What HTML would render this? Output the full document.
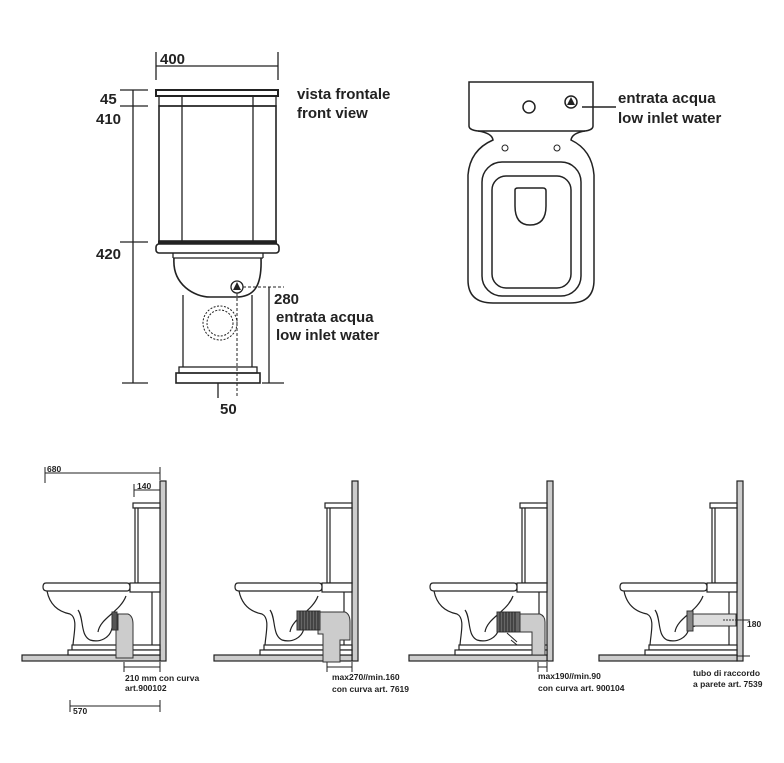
<!DOCTYPE html>
<html><head><meta charset="utf-8"><style>
html,body{margin:0;padding:0;background:#fff;}
svg{display:block;}
text{font-family:"Liberation Sans",Arial,sans-serif;font-weight:bold;fill:#222;}
.b{font-size:15px;}
.s{font-size:8.5px;}
</style></head><body>
<svg width="784" height="763" viewBox="0 0 784 763" xmlns="http://www.w3.org/2000/svg">
<defs>
<g id="side" fill="none" stroke="#222" stroke-width="1.2">
  <rect x="160" y="481" width="6" height="180" fill="#ccc"/>
  <rect x="22" y="655" width="138" height="6" fill="#ccc"/>
  <rect x="133" y="503" width="27" height="5" fill="#fff"/>
  <rect x="135" y="508" width="25" height="75" fill="#fff"/>
  <line x1="138" y1="508" x2="138" y2="583"/>
  <rect x="130" y="583" width="30" height="9" fill="#fff"/>
  <path d="M46,583 L127,583 Q130,583 130,587 Q130,591 127,591 L47,591 Q43,591 43,587 Q43,583 46,583 Z" fill="#fff"/>
  <path d="M152,592 L152,645"/>
  <path d="M47,591 C50,606 60,612 70,614 C78,618 74,632 73,645"/>
  <path d="M78,610 C84,618 80,635 90,640 C100,643 110,638 112,628 L118,626"/>
  <path d="M126,596 C120,612 100,618 98,632"/>
  <rect x="72" y="645" width="88" height="5" fill="#fff"/>
  <rect x="68" y="650" width="92" height="5" fill="#fff"/>
</g>
</defs>

<!-- FRONT VIEW -->
<g fill="none" stroke="#222" stroke-width="1.3">
  <line x1="156" y1="52" x2="156" y2="80"/>
  <line x1="278" y1="52" x2="278" y2="80"/>
  <line x1="156" y1="66" x2="278" y2="66"/>
  <line x1="133" y1="90" x2="133" y2="383"/>
  <line x1="120" y1="90" x2="148" y2="90"/>
  <line x1="120" y1="106" x2="148" y2="106"/>
  <line x1="120" y1="242" x2="148" y2="242"/>
  <line x1="122" y1="383" x2="148" y2="383"/>
  <rect x="156" y="90" width="122" height="6" stroke-width="2"/>
  <rect x="159" y="96" width="117" height="10"/>
  <rect x="159" y="106" width="117" height="135" stroke-width="1.6"/>
  <line x1="182" y1="96" x2="182" y2="241"/>
  <line x1="253" y1="96" x2="253" y2="241"/>
  <line x1="158" y1="242" x2="277" y2="242" stroke-width="3"/>
  <rect x="156" y="244" width="123" height="9" rx="3" stroke-width="1.6"/>
  <line x1="173" y1="258" x2="263" y2="258"/>
  <line x1="173" y1="253" x2="173" y2="258"/><line x1="263" y1="253" x2="263" y2="258"/>
  <path d="M174,258 C172,285 195,297 210,297 L236,297 C255,297 262,285 261,258" stroke-width="1.6"/>
  <line x1="183" y1="295" x2="183" y2="367"/>
  <line x1="252" y1="295" x2="252" y2="367"/>
  <rect x="179" y="367" width="78" height="6"/>
  <rect x="176" y="373" width="84" height="10" stroke-width="1.6"/>
  <circle cx="220" cy="323" r="17" stroke-dasharray="2,1.5" stroke-width="1"/>
  <circle cx="220" cy="323" r="13" stroke-dasharray="2,1.5" stroke-width="1"/>
  <line x1="237" y1="293" x2="237" y2="398" stroke-dasharray="3,2" stroke-width="1"/>
  <line x1="243" y1="287" x2="284" y2="287" stroke-dasharray="3,2" stroke-width="1"/>
  <line x1="269" y1="287" x2="269" y2="383"/>
  <line x1="262" y1="383" x2="284" y2="383"/>
  <line x1="218" y1="383" x2="218" y2="398"/>
  <circle cx="237" cy="287" r="6" fill="#fff"/>
</g>
<polygon points="237,282 233,290 241,290" fill="#222"/>
<text class="b" x="160" y="64">400</text>
<text class="b" x="100" y="104">45</text>
<text class="b" x="96" y="124">410</text>
<text class="b" x="96" y="259">420</text>
<text class="b" x="297" y="99">vista frontale</text>
<text class="b" x="297" y="118">front view</text>
<text class="b" x="274" y="304">280</text>
<text class="b" x="276" y="322">entrata acqua</text>
<text class="b" x="276" y="340">low inlet water</text>
<text class="b" x="220" y="414">50</text>

<!-- TOP VIEW -->
<g fill="none" stroke="#222" stroke-width="1.5">
  <path d="M469,82 L593,82 L593,126 Q593,130 585,131 Q572,133 571,140 Q592,150 594,175 L594,280 Q594,303 570,303 L493,303 Q468,303 468,280 L468,175 Q470,150 493,140 Q492,133 478,131 Q469,130 469,126 Z"/>
  <line x1="478" y1="131" x2="585" y2="131"/>
  <circle cx="529" cy="107" r="6"/>
  <circle cx="571" cy="102" r="6"/>
  <circle cx="505" cy="148" r="3" stroke-width="1"/>
  <circle cx="557" cy="148" r="3" stroke-width="1"/>
  <rect x="482" y="162" width="99" height="134" rx="20"/>
  <rect x="492" y="176" width="79" height="112" rx="14"/>
  <path d="M515,190 Q515,188 518,188 L543,188 Q546,188 546,191 L546,206 Q546,225 530,225 Q515,225 515,206 Z"/>
  <line x1="582" y1="107" x2="616" y2="107"/>
</g>
<polygon points="571,97 567,105 575,105" fill="#222"/>
<text class="b" x="618" y="103">entrata acqua</text>
<text class="b" x="618" y="123">low inlet water</text>

<!-- SIDE VIEWS -->
<use href="#side"/>
<use href="#side" transform="translate(192,0)"/>
<use href="#side" transform="translate(387,0)"/>
<use href="#side" transform="translate(577,0)"/>

<g fill="none" stroke="#222" stroke-width="1">
  <line x1="45" y1="467" x2="45" y2="483"/><line x1="45" y1="473" x2="160" y2="473"/><line x1="160" y1="467" x2="160" y2="480"/>
  <line x1="134" y1="484" x2="134" y2="497"/><line x1="134" y1="490" x2="160" y2="490"/>
  <line x1="124" y1="662" x2="124" y2="672"/><line x1="124" y1="667" x2="160" y2="667"/><line x1="160" y1="662" x2="160" y2="672"/>
  <line x1="70" y1="700" x2="70" y2="712"/><line x1="70" y1="706" x2="160" y2="706"/><line x1="160" y1="700" x2="160" y2="712"/>
  <line x1="327" y1="662" x2="327" y2="672"/><line x1="327" y1="667" x2="352" y2="667"/><line x1="352" y1="662" x2="352" y2="672"/>
  <line x1="538" y1="662" x2="538" y2="672"/><line x1="538" y1="667" x2="547" y2="667"/><line x1="547" y1="662" x2="547" y2="672"/>
  <line x1="743" y1="620" x2="743" y2="656"/><line x1="737" y1="620" x2="750" y2="620"/><line x1="737" y1="656" x2="750" y2="656"/>
</g>

<!-- pipes panel 1 -->
<g stroke="#333" stroke-width="1">
  <path d="M118,614 L128,614 Q133,616 133,624 L133,658 L116,658 L116,630 L118,630 Z" fill="#ccc"/>
  <rect x="112" y="612" width="5" height="18" fill="#555"/>
</g>
<!-- panel 2 -->
<g stroke="#333" stroke-width="1">
  <path d="M318,612 L345,612 Q350,614 350,622 L350,640 L340,640 L340,662 L323,662 L323,634 L318,634 Z" fill="#ccc"/>
  <rect x="297" y="611" width="23" height="19" fill="#666"/>
  <path d="M300,611 V630 M303,611 V630 M306,611 V630 M309,611 V630 M312,611 V630 M315,611 V630 M318,611 V630" stroke="#222"/>
</g>
<!-- panel 3 -->
<g stroke="#333" stroke-width="1">
  <path d="M520,614 L540,614 Q545,616 545,622 L545,655 L532,655 L532,632 L520,632 Z" fill="#ccc"/>
  <rect x="497" y="612" width="23" height="20" fill="#666"/>
  <path d="M500,612 V632 M503,612 V632 M506,612 V632 M509,612 V632 M512,612 V632 M515,612 V632" stroke="#222"/>
  <path d="M507,633 L517,642 M511,640 L517,645" stroke="#222"/>
</g>
<!-- panel 4 -->
<g stroke="#333" stroke-width="1">
  <rect x="692" y="614" width="44" height="12" fill="#ddd"/>
  <rect x="687" y="611" width="6" height="20" fill="#888"/>
  <line x1="723" y1="620" x2="743" y2="620" stroke-dasharray="2,1"/>
</g>

<text class="s" x="47" y="472">680</text>
<text class="s" x="137" y="489">140</text>
<text class="s" x="125" y="681">210 mm con curva</text>
<text class="s" x="125" y="691">art.900102</text>
<text class="s" x="73" y="714">570</text>
<text class="s" x="332" y="680">max270//min.160</text>
<text class="s" x="332" y="692">con curva art. 7619</text>
<text class="s" x="538" y="679">max190//min.90</text>
<text class="s" x="538" y="691">con curva art. 900104</text>
<text class="s" x="747" y="627">180</text>
<text class="s" x="693" y="676">tubo di raccordo</text>
<text class="s" x="693" y="687">a parete art. 7539</text>
</svg>
</body></html>
